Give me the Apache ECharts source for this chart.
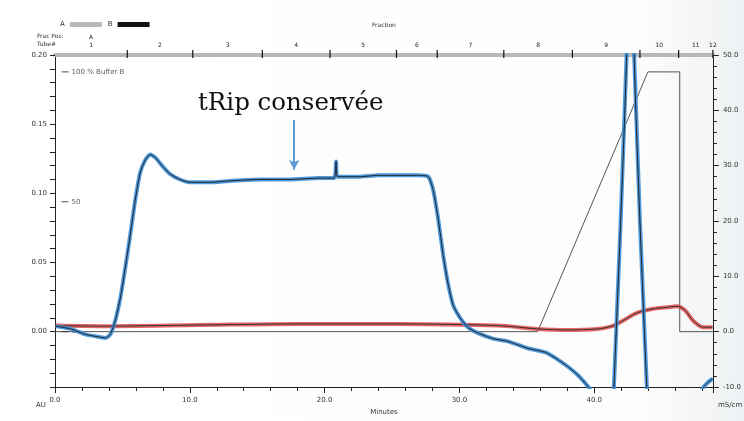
<!DOCTYPE html>
<html>
<head>
<meta charset="utf-8">
<script src="https://cdn.jsdelivr.net/npm/echarts@6/dist/echarts.min.js"></script>
<style>html,body{margin:0;padding:0;background:#fff}#c{width:744px;height:421px}</style>
</head>
<body>
<div id="c"></div>
<script>
// UV absorbance trace (AU) vs time
const uvX = [0.05, 1.16, 2.26, 3.37, 3.74, 4.10, 4.47, 4.84, 5.21, 5.58, 5.95, 6.32, 6.69, 7.06, 7.43, 7.94, 8.53, 9.27, 10.0, 11.48, 12.95, 15.16, 17.37, 19.59, 20.70, 20.85, 20.95, 22.53, 24.0, 25.48, 26.96, 27.69, 28.06, 28.43, 28.80, 29.17, 29.54, 30.05, 30.64, 31.38, 32.48, 33.59, 35.06, 36.39, 37.27, 38.0, 38.74, 39.48, 39.85, 40.6, 41.3, 41.45, 42.4, 42.7, 42.96, 43.91, 44.28, 46.0, 47.5, 47.97, 48.4, 48.78];
const uvAU = [0.004, 0.002, -0.002, -0.004, -0.0045, -0.002, 0.008, 0.024, 0.046, 0.070, 0.095, 0.115, 0.124, 0.128, 0.126, 0.120, 0.114, 0.110, 0.108, 0.108, 0.109, 0.110, 0.110, 0.111, 0.111, 0.123, 0.112, 0.112, 0.113, 0.113, 0.113, 0.112, 0.102, 0.081, 0.055, 0.034, 0.019, 0.010, 0.003, -0.001, -0.005, -0.007, -0.012, -0.015, -0.020, -0.025, -0.031, -0.039, -0.044, -0.060, -0.060, -0.042, 0.200, 0.450, 0.200, -0.042, -0.070, -0.080, -0.070, -0.042, -0.037, -0.034];
// Conductivity trace (mS/cm)
const condX = [0.05, 3.37, 10.74, 18.11, 25.48, 32.85, 35.8, 38.01, 40.22, 41.33, 42.21, 43.17, 44.28, 45.38, 46.12, 46.71, 47.37, 48.11, 48.77];
const condVal = [1.1, 1.0, 1.2, 1.4, 1.4, 1.1, 0.5, 0.3, 0.5, 1.0, 2.1, 3.4, 4.1, 4.4, 4.6, 3.9, 1.9, 0.8, 0.8];
// Gradient (% Buffer B)
const gradX = [0, 35.8, 43.98, 46.34, 46.34, 48.8];
const gradB = [0, 0, 100, 100, 0, 0];
// Fractions
const fracStart = [0, 5.36, 10.22, 15.38, 20.40, 25.33, 28.35, 33.29, 38.38, 43.39, 46.26, 48.8];
const fracEnd = [5.36, 10.22, 15.38, 20.40, 25.33, 28.35, 33.29, 38.38, 43.39, 46.26, 48.8, 48.8];
const fracLabels = ['1','2','3','4','5','6','7','8','9','10','11','12'];
const fracPos = ['A','','','','','','','','','','',''];
// %B tick labels
const bTicks = [100, 50, 0];
const bTickLabels = ['100 % Buffer B', '50', '0'];

const zip = (a, b) => a.map((v, i) => [v, b[i]]);
const chart = echarts.init(document.getElementById('c'));
const small = { fontFamily: 'DejaVu Sans', fontSize: 7, color: '#333' };

chart.setOption({
  animation: false,
  backgroundColor: { type: 'linear', x: 0, y: 0, x2: 1, y2: 0, colorStops: [
    { offset: 0, color: '#ffffff' }, { offset: 0.85, color: '#fdfdfd' }, { offset: 1, color: '#eef1f3' }] },
  title: {
    text: 'tRip conservée', left: 193, top: 86,
    textStyle: { fontFamily: 'DejaVu Serif', fontSize: 24.5, fontWeight: 'normal', color: '#111' }
  },
  legend: {
    left: 55, top: 16, align: 'right', itemWidth: 32, itemHeight: 5, itemGap: 6,
    textStyle: { fontFamily: 'DejaVu Sans', fontSize: 7, color: '#333' },
    data: [{ name: 'A', icon: 'rect' }, { name: 'B', icon: 'rect' }],
    selectedMode: false
  },
  graphic: [
    { type: 'text', left: 37, top: 33, style: { text: 'Frac Pos:', font: '6px DejaVu Sans', fill: '#333' } },
    { type: 'text', left: 37, top: 41, style: { text: 'Tube#', font: '6px DejaVu Sans', fill: '#333' } },
    { type: 'text', left: 36, top: 402, style: { text: 'AU', font: '7px DejaVu Sans', fill: '#333' } },
    { type: 'text', left: 718, top: 402, style: { text: 'mS/cm', font: '7px DejaVu Sans', fill: '#333' } }
  ],
  grid: { left: 55, right: 28, top: 55, bottom: 34 },
  xAxis: [
    {
      type: 'value', min: 0, max: 48.8, interval: 10, position: 'bottom',
      name: 'Minutes', nameLocation: 'middle', nameGap: 21, nameTextStyle: small,
      axisLine: { onZero: false, lineStyle: { color: '#222', width: 1 } },
      axisTick: { length: 6, lineStyle: { color: '#222' } },
      minorTick: { show: true, splitNumber: 5, length: 4, lineStyle: { color: '#222' } },
      axisLabel: { ...small, showMaxLabel: false, margin: 10, formatter: v => v.toFixed(1) },
      splitLine: { show: false }
    },
    {
      type: 'value', min: 0, max: 48.8, position: 'top',
      name: 'Fraction', nameLocation: 'middle', nameGap: 27, nameTextStyle: { fontFamily: 'DejaVu Sans', fontSize: 6, color: '#333' },
      axisLine: { onZero: false, lineStyle: { color: '#b8b8b8', width: 4 } },
      axisTick: { show: false }, axisLabel: { show: false }, splitLine: { show: false }
    }
  ],
  yAxis: [
    {
      type: 'value', min: -0.04, max: 0.20, interval: 0.01, position: 'left',
      axisLine: { show: true, onZero: false, lineStyle: { color: '#222' } },
      axisTick: { show: true, length: 5, lineStyle: { color: '#222' } },
      axisLabel: { ...small, margin: 8, formatter: v => { const r = Math.round(v * 100); return (r >= 0 && r % 5 === 0) ? (r / 100).toFixed(2) : ''; } },
      splitLine: { show: false }
    },
    {
      type: 'value', min: -10, max: 50, interval: 10, position: 'right',
      axisLine: { show: true, onZero: false, lineStyle: { color: '#222' } },
      axisTick: { show: true, length: 6, lineStyle: { color: '#222' } },
      minorTick: { show: true, splitNumber: 5, length: 4, lineStyle: { color: '#222' } },
      axisLabel: { ...small, margin: 10, formatter: v => v.toFixed(1) },
      splitLine: { show: false }
    },
    { type: 'value', min: -21.3, max: 106.5, show: false }
  ],
  series: [
    {
      name: 'A', type: 'custom', xAxisIndex: 1, yAxisIndex: 0, clip: false, silent: true,
      itemStyle: { color: '#b8b8b8' },
      data: fracStart.map((s, i) => [s, fracEnd[i], i]),
      renderItem: (params, api) => {
        const s = api.value(0), e = api.value(1), i = api.value(2);
        const p0 = api.coord([s, 0.20]);
        const pc = api.coord([(s + e) / 2, 0.20]);
        const children = [];
        if (s > 0) children.push({ type: 'line', shape: { x1: p0[0], y1: p0[1] - 5, x2: p0[0], y2: p0[1] + 3 }, style: { stroke: '#111', lineWidth: 1.2 } });
        children.push({ type: 'text', style: { text: fracLabels[i], x: pc[0], y: p0[1] - 7, font: '6px DejaVu Sans', fill: '#222', align: 'center', verticalAlign: 'bottom' } });
        if (fracPos[i]) children.push({ type: 'text', style: { text: fracPos[i], x: pc[0], y: p0[1] - 15, font: '6px DejaVu Sans', fill: '#222', align: 'center', verticalAlign: 'bottom' } });
        return { type: 'group', children };
      }
    },
    {
      name: 'B', type: 'line', xAxisIndex: 0, yAxisIndex: 2, showSymbol: false, silent: true,
      data: zip(gradX, gradB), itemStyle: { color: '#111' },
      lineStyle: { color: '#555', width: 1 }, z: 2
    },
    {
      name: 'bticks', type: 'scatter', xAxisIndex: 0, yAxisIndex: 2, silent: true,
      data: bTicks.map(v => [0.75, v]), symbol: 'rect', symbolSize: [7, 1], itemStyle: { color: '#222' },
      label: { show: true, position: 'right', distance: 3, ...small, formatter: p => bTickLabels[p.dataIndex] }, z: 3
    },
    {
      name: 'condRed', type: 'line', xAxisIndex: 0, yAxisIndex: 1, showSymbol: false, silent: true, smooth: 0.3,
      data: zip(condX, condVal), lineStyle: { color: '#e24a4a', width: 4, opacity: 0.85 }, z: 4
    },
    {
      name: 'cond', type: 'line', xAxisIndex: 0, yAxisIndex: 1, showSymbol: false, silent: true, smooth: 0.3,
      data: zip(condX, condVal), lineStyle: { color: '#333', width: 1 }, z: 5
    },
    {
      name: 'uvBlue', type: 'line', xAxisIndex: 0, yAxisIndex: 0, showSymbol: false, silent: true, smooth: 0.2,
      data: zip(uvX, uvAU), lineStyle: { color: '#3b8fd9', width: 4, opacity: 0.9 }, z: 6
    },
    {
      name: 'uv', type: 'line', xAxisIndex: 0, yAxisIndex: 0, showSymbol: false, silent: true, smooth: 0.2,
      data: zip(uvX, uvAU), lineStyle: { color: '#222', width: 1 }, z: 7,
      markLine: {
        silent: true, symbol: ['none', 'arrow'], symbolSize: [8, 10],
        lineStyle: { color: '#5b9bd5', width: 2, type: 'solid' }, label: { show: false },
        data: [[{ coord: [17.74, 0.153] }, { coord: [17.74, 0.117] }]]
      }
    }
  ]
});
</script>
</body>
</html>
